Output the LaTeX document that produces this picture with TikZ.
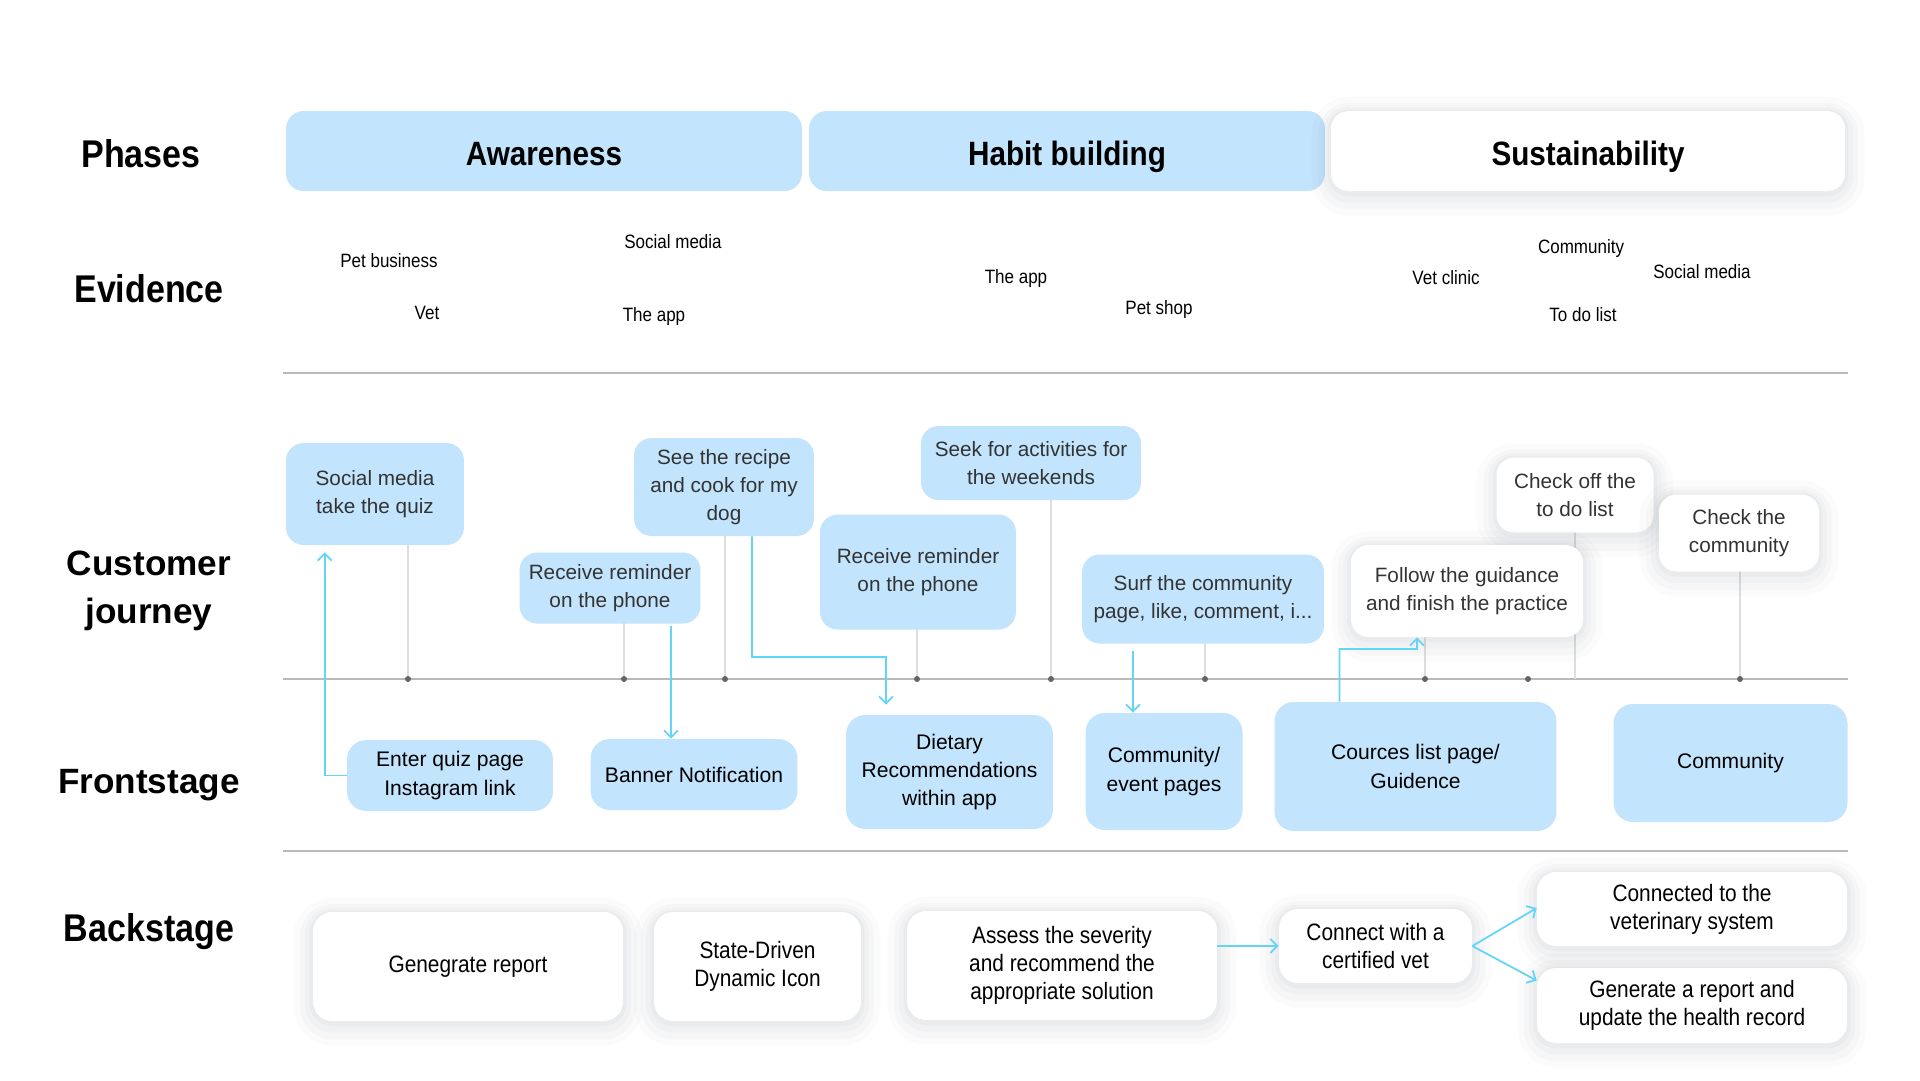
\documentclass[tikz,border=0pt]{standalone}
\usepackage{fontspec}
\setmainfont{Liberation Sans}
\newfontfamily\narrowfont[FakeStretch=0.88]{Liberation Sans}
\usetikzlibrary{arrows.meta,calc}

\definecolor{cardblue}{RGB}{194,228,252}
\definecolor{flowcyan}{RGB}{100,212,247}
\definecolor{stemgray}{RGB}{222,222,222}
\definecolor{linegray}{RGB}{185,185,185}
\definecolor{dotgray}{RGB}{100,100,100}
\definecolor{textgray}{RGB}{51,51,51}
\definecolor{shadowc}{RGB}{60,70,90}

\tikzset{
  rowlabel/.style={font=\narrowfont\bfseries\fontsize{22}{26}\selectfont, text=black,
    text height=16pt, text depth=4.5pt},
  rowlabelwide/.style={font=\bfseries\fontsize{20}{27}\selectfont, align=center, text=black},
  softshadow/.style={
    preaction={draw=shadowc, line width=22pt, opacity=0.018, transform canvas={yshift=-3pt}},
    preaction={draw=shadowc, line width=15pt, opacity=0.022, transform canvas={yshift=-3pt}},
    preaction={draw=shadowc, line width=9pt, opacity=0.026, transform canvas={yshift=-2pt}},
    preaction={draw=shadowc, line width=4pt, opacity=0.03, transform canvas={yshift=-1pt}}},
  phasebox/.style={rounded corners=10pt, minimum height=1.6cm, minimum width=10.32cm,
    font=\narrowfont\bfseries\fontsize{19.2}{23}\selectfont, text height=20pt, text depth=4pt},
  evidence/.style={font=\narrowfont\fontsize{11}{13}\selectfont, text=black},
  journey/.style={rounded corners=10pt, fill=cardblue, align=center, inner sep=2pt,
    font=\fontsize{11.8}{16}\selectfont, text=textgray},
  journeywhite/.style={journey, fill=white, softshadow},
  front/.style={rounded corners=11pt, fill=cardblue, align=center, inner sep=2pt,
    font=\fontsize{12}{16}\selectfont, text=black},
  back/.style={rounded corners=11pt, fill=white, softshadow, align=center, inner sep=2pt,
    font=\narrowfont\fontsize{13.5}{16}\selectfont, text=black},
  stem/.style={draw=stemgray, line width=0.8pt},
  flow/.style={draw=flowcyan, line width=1pt, -{Straight Barb[length=4pt,width=8pt]}},
}

\begin{document}
\begin{tikzpicture}[x=0.02cm,y=-0.02cm]
\useasboundingbox[fill=white] (0,0) rectangle (1920,1080);

% row titles
\node[rowlabel] (lphase) at (141,157) {Phases};
\node[rowlabel] (levid) at (149,292) {Evidence};
\node[rowlabelwide] (ljour) at (149,591) {Customer\\journey};
\node[rowlabelwide] (lfront) at (149,785) {Frontstage};
\node[rowlabel] (lback) at (149,931) {Backstage};

% phases
\node[phasebox, fill=cardblue] (awa) at (544,151) {Awareness};
\node[phasebox, fill=cardblue] (hab) at (1067,151) {Habit building};
\node[phasebox, fill=white, softshadow, minimum width=10.28cm] (sus) at (1588,151) {Sustainability};

% evidence
\node[evidence] (ev1) at (389,261) {Pet business};
\node[evidence] (ev2) at (427,313) {Vet};
\node[evidence] (ev3) at (673,242) {Social media};
\node[evidence] (ev4) at (654,316) {The app};
\node[evidence] (ev5) at (1016,278) {The app};
\node[evidence] (ev6) at (1159,309) {Pet shop};
\node[evidence] (ev7) at (1446,278) {Vet clinic};
\node[evidence] (ev8) at (1581,248) {Community};
\node[evidence] (ev9) at (1702,272) {Social media};
\node[evidence] (ev10) at (1583,315) {To do list};

% separators and timeline
\draw[linegray, line width=1.1pt] (283,373) -- (1848,373);
\draw[linegray, line width=1.1pt] (283,851) -- (1848,851);
\draw[linegray, line width=1.1pt] (283,679) -- (1848,679);

% touch points on the timeline
\coordinate (t1) at (408,679);
\coordinate (t2) at (624,679);
\coordinate (t3) at (725,679);
\coordinate (t4) at (917,679);
\coordinate (t5) at (1051,679);
\coordinate (t6) at (1205,679);
\coordinate (t7) at (1425,679);
\coordinate (t8) at (1528,679);
\coordinate (t9) at (1740,679);
\coordinate (t10) at (1575,679);

\draw[stem] (t1) -- (408,545);
\draw[stem] (t2) -- (624,623);
\draw[stem] (t3) -- (725,534);
\draw[stem] (t4) -- (917,629);
\draw[stem] (t5) -- (1051,500);
\draw[stem] (t6) -- (1205,642);
\draw[stem] (t7) -- (1425,636);
\draw[stem] (t10) -- (1575,532);
\draw[stem] (t9) -- (1740,571);
\foreach \t in {t1,t2,t3,t4,t5,t6,t7,t8,t9}
  \fill[dotgray] (\t) circle (1.7pt);

% customer journey
\node[journey, minimum width=3.56cm, minimum height=2.04cm] (j1) at (375,494) {Social media\\take the quiz};
\node[journey, minimum width=3.62cm, minimum height=1.42cm] (j2) at (610,588) {Receive reminder\\on the phone};
\node[journey, minimum width=3.6cm, minimum height=1.96cm] (j3) at (724,487) {See the recipe\\and cook for my\\dog};
\node[journey, minimum width=3.92cm, minimum height=2.3cm] (j4) at (918,572) {Receive reminder\\on the phone};
\node[journey, minimum width=4.4cm, minimum height=1.48cm] (j5) at (1031,463) {Seek for activities for\\the weekends};
\node[journey, minimum width=4.84cm, minimum height=1.78cm] (j6) at (1203,599) {Surf the community\\page, like, comment, i...};
\node[journeywhite, minimum width=3.14cm, minimum height=1.5cm] (j8) at (1575,495) {Check off the\\to do list};
\node[journeywhite, minimum width=4.64cm, minimum height=1.84cm] (j7) at (1467,591) {Follow the guidance\\and finish the practice};
\node[journeywhite, minimum width=3.2cm, minimum height=1.54cm] (j9) at (1739,533) {Check the\\community};

% frontstage
\node[front, minimum width=4.12cm, minimum height=1.42cm] (fquiz) at (450,775.5) {Enter quiz page\\Instagram link};
\node[front, minimum width=4.14cm, minimum height=1.42cm] (fbanner) at (694,774.5) {Banner Notification};
\node[front, minimum width=4.14cm, minimum height=2.28cm] (fdiet) at (949.5,772) {Dietary\\Recommendations\\within app};
\node[front, minimum width=3.14cm, minimum height=2.34cm] (fevent) at (1164,771.5) {Community/\\event pages};
\node[front, minimum width=5.64cm, minimum height=2.58cm] (fcourse) at (1415.5,766.5) {Cources list page/\\Guidence};
\node[front, minimum width=4.68cm, minimum height=2.36cm] (fcomm) at (1730.5,763) {Community};

% backstage
\node[back, minimum width=6.2cm, minimum height=2.18cm] (breport) at (468,966.5) {Genegrate report};
\node[back, minimum width=4.14cm, minimum height=2.18cm] (bicon) at (757.5,966.5) {State-Driven\\Dynamic Icon};
\node[back, minimum width=6.2cm, minimum height=2.18cm] (bassess) at (1062,965.5) {Assess the severity\\and recommend the\\appropriate solution};
\node[back, minimum width=3.86cm, minimum height=1.48cm] (bvet) at (1375.5,946) {Connect with a\\certified vet};
\node[back, minimum width=6.2cm, minimum height=1.48cm] (bsys) at (1692,909) {Connected to the\\veterinary system};
\node[back, minimum width=6.2cm, minimum height=1.5cm] (brecord) at (1692,1005.5) {Generate a report and\\update the health record};

% flows between journey and frontstage
\coordinate (rbend) at (886,657);
\coordinate (cbend) at (1417,649);
\draw[flow] (fquiz.west) -| ([xshift=0.78cm,yshift=-0.14cm]j1.south west);
\draw[flow] ([xshift=1.22cm,yshift=-0.04cm]j2.south) -- ([xshift=1.22cm]j2.south |- fbanner.north);
\draw[flow] ([xshift=0.56cm]j3.south) |- (rbend) -- ([xshift=-1.27cm,yshift=0.2cm]fdiet.north);
\draw[flow] ([xshift=-1.4cm,yshift=-0.14cm]j6.south) -- ([xshift=-1.4cm]j6.south |- fevent.north);
\draw[flow] ([xshift=-1.52cm]fcourse.north) |- (cbend) -- ([xshift=-1cm]j7.south);

% backstage flows
\draw[flow] (bassess.east |- bvet.west) -- (bvet.west);
\draw[flow] (bvet.east) -- ([yshift=0.02cm]bsys.west);
\draw[flow] (bvet.east) -- ([yshift=0.5cm]brecord.west);
\end{tikzpicture}
\end{document}
